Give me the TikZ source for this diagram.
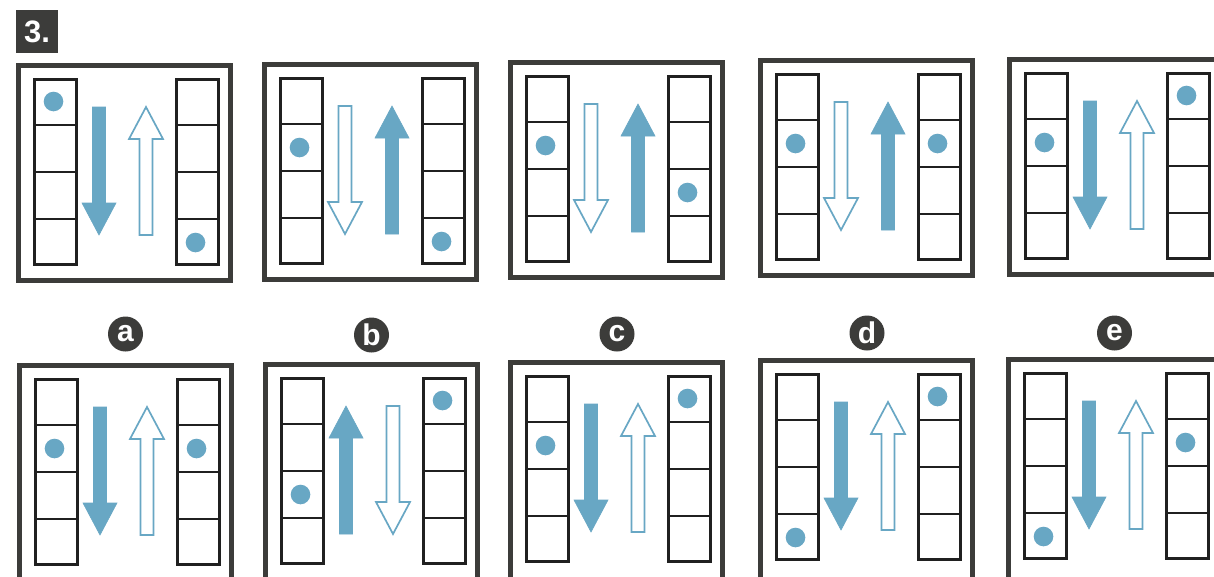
\documentclass[tikz,border=0pt]{standalone}
\usepackage{fontspec}
\newfontfamily\labfont{Liberation Sans}
\definecolor{pblue}{RGB}{104,167,196}
\definecolor{pgray}{RGB}{60,60,58}
\definecolor{cellc}{RGB}{32,32,32}
\tikzset{
  frame/.style={draw=pgray, line width=5pt},
  cellbox/.style={draw=cellc, line width=2.8pt},
  filledarr/.style={fill=pblue, draw=pblue, line width=0.6pt, line join=miter},
  openarr/.style={fill=white, draw=pblue, line width=1.7pt, line join=miter},
  labcirc/.style={circle, fill=pgray, minimum size=35pt, inner sep=0pt, text=white,
    font=\labfont\bfseries\fontsize{30}{30}\selectfont},
  numbox/.style={fill=pgray, minimum width=42pt, minimum height=43pt, inner sep=0pt, text=white,
    font=\labfont\bfseries\fontsize{31}{31}\selectfont},
}
\def\fh{217.5}
% column: left x, dot index (0 = none)
\newcommand\pcol[2]{%
  \draw[cellbox] (#1+1.4,16.4) rectangle (#1+43.6,201.6);
  \foreach \k in {1,2,3}{\draw[cellbox] (#1+1.4,15+47*\k) -- (#1+43.6,15+47*\k);}
  \ifnum#2>0 \fill[pblue] (#1+20.5,15+47*#2-23.5) circle (9.8);\fi
}
\newcommand\arrdown[2]{%
  \draw[#2] (#1-6.5,44) -- (#1+6.5,44) -- (#1+6.5,140) -- (#1+17,140) -- (#1,172)
    -- (#1-17,140) -- (#1-6.5,140) -- cycle;}
\newcommand\arrup[2]{%
  \draw[#2] (#1-6.5,172) -- (#1+6.5,172) -- (#1+6.5,76) -- (#1+17,76) -- (#1,44)
    -- (#1-17,76) -- (#1-6.5,76) -- cycle;}
% panel: x, y, left dot, right dot, mode
\newcommand\pnl[5]{%
  \begin{scope}[shift={(#1,#2)}]
    \draw[frame] (2.5,2.5) rectangle (214.5,\fh);
    \pcol{17}{#3}
    \pcol{159}{#4}
    \ifcase#5 \or
      \arrdown{83}{filledarr}\arrup{130}{openarr}%
    \or
      \arrdown{83}{openarr}\arrup{130}{filledarr}%
    \or
      \arrup{83}{filledarr}\arrdown{130}{openarr}%
    \fi
  \end{scope}}
\begin{document}
\begin{tikzpicture}[x=1pt,y=-1pt]
\useasboundingbox (0,0) rectangle (1214,576);
\fill[white] (0,0) rectangle (1214,576);
\clip (0,0) rectangle (1214,576);
\node[numbox] (num) at (37,31.5) {3.};
% top row
\pnl{16}{63}{1}{4}{1}
\pnl{262}{62}{2}{4}{2}
\pnl{508}{60}{2}{3}{2}
\pnl{758}{58}{2}{2}{2}
\pnl{1007}{57}{2}{1}{1}
% bottom row (frames run off the bottom edge)
\def\fh{270}
\pnl{17}{363}{2}{2}{1}
\pnl{263}{362}{3}{1}{3}
\pnl{508}{360}{2}{1}{1}
\pnl{758}{358}{4}{1}{1}
\pnl{1006}{357}{4}{2}{1}
% labels
\node[labcirc] (la) at (125.5,334) {a};
\node[labcirc] (lb) at (371.5,335) {b};
\node[labcirc] (lc) at (617,334) {c};
\node[labcirc] (ld) at (867,333) {d};
\node[labcirc] (le) at (1114.5,333) {e};
\end{tikzpicture}
\end{document}
